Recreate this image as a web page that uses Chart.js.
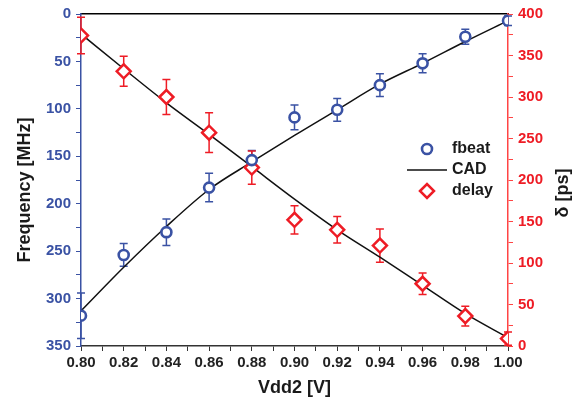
<!DOCTYPE html>
<html>
<head>
<meta charset="utf-8">
<script src="https://cdn.jsdelivr.net/npm/chart.js@4.4.1/dist/chart.umd.min.js"></script>
<style>
  html, body { margin: 0; padding: 0; background: #fff; }
  #wrap { width: 585px; height: 402px; }
</style>
</head>
<body>
<div id="wrap"><canvas id="chart" width="585" height="402"></canvas></div>
<script>
// Vdd2, V
const vdd2 = [0.80, 0.82, 0.84, 0.86, 0.88, 0.90, 0.92, 0.94, 0.96, 0.98, 1.00];
// measured beat frequency, MHz (left axis, reversed)
const fbeat = [318, 254, 230, 183, 154, 109, 101, 75, 52, 24, 7];
const fbeatErr = [24, 12, 14, 15, 10, 13, 12, 12, 10, 8, 5];
// measured delay, ps (right axis)
const delay = [374, 331, 300, 257, 215, 152, 140, 121, 75, 36, 9];
const delayErr = [22, 18, 21, 24, 20, 17, 16, 20, 13, 12, 8];
// CAD simulation curves
const cadFreq = [313, 267, 224, 185, 156, 128, 101, 74, 52, 29, 7];
const cadDelay = [376, 334, 293, 255, 216, 177, 140, 107, 73, 39, 10];

const xTickLabels = ['0.80', '0.82', '0.84', '0.86', '0.88', '0.90', '0.92', '0.94', '0.96', '0.98', '1.00'];
const freqTickLabels = ['0', '50', '100', '150', '200', '250', '300', '350'];
const delayTickLabels = ['0', '50', '100', '150', '200', '250', '300', '350', '400'];

const BLUE = '#3a52a4';
const RED = '#ee1c25';
const FONT = "'Liberation Sans', Arial, sans-serif";
Chart.defaults.font.family = FONT;

const pts = (ys) => vdd2.map((x, i) => ({ x, y: ys[i] }));

// major ticks from the labels plus one minor tick between each pair
function withMinor(labels) {
  const vals = labels.map(Number);
  const ticks = [];
  vals.forEach((v, i) => {
    ticks.push({ value: v });
    if (i < vals.length - 1) ticks.push({ value: (v + vals[i + 1]) / 2 });
  });
  return ticks;
}
const majorLabel = (labels) => (value, index) => (index % 2 === 0 ? labels[index / 2] : '');

// vertical error bars drawn with the chart scales
const errorBars = {
  id: 'errorBars',
  beforeDatasetsDraw(chart) {
    const ctx = chart.ctx;
    chart.data.datasets.forEach((ds) => {
      if (!ds.errors) return;
      const xs = chart.scales.x;
      const ys = chart.scales[ds.yAxisID];
      ctx.save();
      ctx.strokeStyle = ds.borderColor;
      ctx.lineWidth = 1.5;
      ds.data.forEach((p, j) => {
        const px = xs.getPixelForValue(p.x);
        const lo = ys.getPixelForValue(p.y - ds.errors[j]);
        const hi = ys.getPixelForValue(p.y + ds.errors[j]);
        ctx.beginPath();
        ctx.moveTo(px, lo); ctx.lineTo(px, hi);
        ctx.moveTo(px - 4, lo); ctx.lineTo(px + 4, lo);
        ctx.moveTo(px - 4, hi); ctx.lineTo(px + 4, hi);
        ctx.stroke();
      });
      ctx.restore();
    });
  }
};

// both vertical axis titles read bottom-to-top, as in the original
const sideTitles = {
  id: 'sideTitles',
  afterDraw(chart) {
    const ctx = chart.ctx;
    const a = chart.chartArea;
    const mid = (a.top + a.bottom) / 2;
    const items = [
      { text: 'Frequency [MHz]', x: 25, y: mid + 10 },
      { text: 'δ [ps]', x: 563, y: mid + 13 }
    ];
    ctx.save();
    ctx.font = 'bold 18px ' + FONT;
    ctx.fillStyle = '#1a1a1a';
    ctx.textAlign = 'center';
    ctx.textBaseline = 'middle';
    items.forEach(t => {
      ctx.save();
      ctx.translate(t.x, t.y);
      ctx.rotate(-Math.PI / 2);
      ctx.fillText(t.text, 0, 0);
      ctx.restore();
    });
    ctx.restore();
  }
};

// legend inside the plot area
const innerLegend = {
  id: 'innerLegend',
  afterDraw(chart) {
    const ctx = chart.ctx;
    const a = chart.chartArea;
    const x0 = a.left + 346, y0 = a.top + 135, step = 21;
    const [f, d, c] = chart.data.datasets;
    ctx.save();
    ctx.font = 'bold 16px ' + FONT;
    ctx.textBaseline = 'middle';
    // fbeat
    ctx.strokeStyle = f.borderColor; ctx.fillStyle = '#fff'; ctx.lineWidth = f.borderWidth;
    Chart.helpers.drawPoint(ctx, { pointStyle: 'circle', radius: f.pointRadius, borderWidth: f.borderWidth }, x0, y0);
    // CAD
    ctx.strokeStyle = c.borderColor; ctx.lineWidth = 1.5;
    ctx.beginPath(); ctx.moveTo(x0 - 20, y0 + step); ctx.lineTo(x0 + 20, y0 + step); ctx.stroke();
    // delay
    ctx.strokeStyle = d.borderColor; ctx.fillStyle = '#fff'; ctx.lineWidth = d.borderWidth;
    Chart.helpers.drawPoint(ctx, { pointStyle: 'rectRot', radius: d.pointRadius, borderWidth: d.borderWidth }, x0, y0 + 2 * step);
    ctx.fillStyle = '#1a1a1a';
    ctx.fillText(f.label, x0 + 25, y0);
    ctx.fillText('CAD', x0 + 25, y0 + step);
    ctx.fillText(d.label, x0 + 25, y0 + 2 * step);
    ctx.restore();
  }
};

const tickFont = { size: 15, weight: 'bold' };
const titleFont = { size: 18, weight: 'bold' };

new Chart(document.getElementById('chart'), {
  type: 'line',
  data: {
    datasets: [
      {
        label: 'fbeat', data: pts(fbeat), errors: fbeatErr, yAxisID: 'y',
        showLine: false, borderColor: BLUE, backgroundColor: '#fff',
        pointStyle: 'circle', pointRadius: 5, borderWidth: 2.6, pointBorderWidth: 2.6
      },
      {
        label: 'delay', data: pts(delay), errors: delayErr, yAxisID: 'y1',
        showLine: false, borderColor: RED, backgroundColor: '#fff',
        pointStyle: 'rectRot', pointRadius: 7, borderWidth: 2.5, pointBorderWidth: 2.5
      },
      {
        label: 'CAD', data: pts(cadFreq), yAxisID: 'y',
        borderColor: '#111', borderWidth: 1.5, pointRadius: 0, tension: 0.4, cubicInterpolationMode: 'monotone'
      },
      {
        label: 'CAD delay', data: pts(cadDelay), yAxisID: 'y1',
        borderColor: '#111', borderWidth: 1.5, pointRadius: 0, tension: 0.4, cubicInterpolationMode: 'monotone'
      }
    ]
  },
  options: {
    responsive: false,
    animation: false,
    layout: { padding: 0 },
    plugins: { legend: { display: false }, tooltip: { enabled: false } },
    scales: {
      x: {
        type: 'linear', position: 'bottom', min: 0.8, max: 1.0,
        afterBuildTicks: s => { s.ticks = withMinor(xTickLabels); },
        afterFit: s => { s.height = 56; },
        ticks: { autoSkip: false, maxRotation: 0, font: tickFont, color: '#222', padding: 3,
                 callback: majorLabel(xTickLabels) },
        grid: { drawOnChartArea: false, tickLength: 5, tickColor: '#333', tickWidth: 1 },
        border: { color: '#333', width: 1.5 },
        title: { display: true, text: 'Vdd2 [V]', font: titleFont, color: '#1a1a1a', padding: { top: 0, bottom: 3 } }
      },
      xTop: {
        type: 'linear', position: 'top', min: 0.8, max: 1.0,
        afterFit: s => { s.height = 13; },
        ticks: { display: false },
        grid: { display: false },
        border: { color: '#000', width: 1.5 }
      },
      y: {
        type: 'linear', position: 'left', reverse: true, min: 0, max: 350,
        afterBuildTicks: s => { s.ticks = withMinor(freqTickLabels); },
        afterFit: s => { s.width = 81; },
        ticks: { autoSkip: false, font: tickFont, color: BLUE, padding: 5,
                 callback: majorLabel(freqTickLabels) },
        grid: { drawOnChartArea: false, tickLength: 5, tickColor: BLUE, tickWidth: 1 },
        border: { color: BLUE, width: 1.5 }
      },
      y1: {
        type: 'linear', position: 'right', min: 0, max: 400,
        afterBuildTicks: s => { s.ticks = withMinor(delayTickLabels); },
        afterFit: s => { s.width = 77; },
        ticks: { autoSkip: false, font: tickFont, color: RED, padding: 5,
                 callback: majorLabel(delayTickLabels) },
        grid: { drawOnChartArea: false, tickLength: 5, tickColor: '#f44', tickWidth: 1 },
        border: { color: '#f44', width: 1.5 }
      }
    }
  },
  plugins: [errorBars, sideTitles, innerLegend]
});
</script>
</body>
</html>
